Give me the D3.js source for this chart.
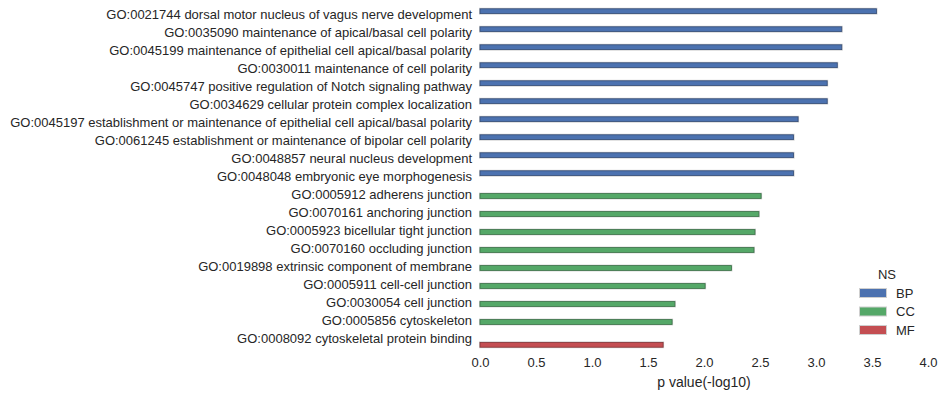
<!DOCTYPE html>
<html>
<head>
<meta charset="utf-8">
<script src="https://cdn.jsdelivr.net/npm/d3@7"></script>
<style>
  html, body { margin: 0; padding: 0; background: #fff; }
  svg { display: block; font-family: "Liberation Sans", Arial, sans-serif; }
</style>
</head>
<body>
<svg id="chart" width="942" height="397"></svg>
<script>
const terms = [
  "GO:0021744 dorsal motor nucleus of vagus nerve development",
  "GO:0035090 maintenance of apical/basal cell polarity",
  "GO:0045199 maintenance of epithelial cell apical/basal polarity",
  "GO:0030011 maintenance of cell polarity",
  "GO:0045747 positive regulation of Notch signaling pathway",
  "GO:0034629 cellular protein complex localization",
  "GO:0045197 establishment or maintenance of epithelial cell apical/basal polarity",
  "GO:0061245 establishment or maintenance of bipolar cell polarity",
  "GO:0048857 neural nucleus development",
  "GO:0048048 embryonic eye morphogenesis",
  "GO:0005912 adherens junction",
  "GO:0070161 anchoring junction",
  "GO:0005923 bicellular tight junction",
  "GO:0070160 occluding junction",
  "GO:0019898 extrinsic component of membrane",
  "GO:0005911 cell-cell junction",
  "GO:0030054 cell junction",
  "GO:0005856 cytoskeleton",
  "GO:0008092 cytoskeletal protein binding"
];
const namespaces = ["BP","BP","BP","BP","BP","BP","BP","BP","BP","BP",
                    "CC","CC","CC","CC","CC","CC","CC","CC","MF"];
const pvalues = [3.54, 3.23, 3.23, 3.19, 3.10, 3.10, 2.84, 2.80, 2.80, 2.80,
                 2.51, 2.49, 2.455, 2.446, 2.245, 2.01, 1.74, 1.715, 1.635];
const hueOrder = ["BP", "CC", "MF"];
const hueColors = ["#4C72B0", "#55A868", "#C44E52"];
const xTicks = [0, 0.5, 1, 1.5, 2, 2.5, 3, 3.5, 4];
const xLabel = "p value(-log10)";
const legendTitle = "NS";

const data = terms.map((t, i) => ({term: t, ns: namespaces[i], value: pvalues[i]}));

const svg = d3.select("#chart");
const textColor = "#262626";

const x = d3.scaleLinear().domain([0, 4]).range([480, 928]);
const y = d3.scaleBand().domain(terms).range([7, 349]).paddingInner(0.2).paddingOuter(0.1);
const hue = d3.scaleBand().domain(hueOrder).range([0, y.bandwidth()]);
const color = d3.scaleOrdinal().domain(hueOrder).range(hueColors);

// bars
const bars = svg.append("g");
data.forEach(d => {
  const y0 = y(d.term) + hue(d.ns);
  const h = hue.bandwidth();
  const w = x(d.value) - x(0);
  bars.append("rect")
    .attr("x", x(0) - 0.5).attr("y", y0 - 0.5)
    .attr("width", w + 1).attr("height", h + 1)
    .attr("fill", "none").attr("stroke", "#cfcfcf").attr("stroke-width", 1);
  bars.append("rect")
    .attr("x", x(0)).attr("y", y0)
    .attr("width", w).attr("height", h)
    .attr("fill", color(d.ns))
    .attr("stroke", d3.color(color(d.ns)).darker(1.2))
    .attr("stroke-width", 0.8);
});

// y axis
const yAxis = svg.append("g")
  .attr("transform", `translate(${x(0)},0)`)
  .call(d3.axisLeft(y).tickSize(0).tickPadding(8));
yAxis.select(".domain").remove();
yAxis.selectAll("text")
  .attr("fill", textColor)
  .attr("dy", "0.25em")
  .style("font-size", "13px")
  .style("font-family", "'Liberation Sans', Arial, sans-serif");

// x axis
const xAxis = svg.append("g")
  .attr("transform", `translate(0,349)`)
  .call(d3.axisBottom(x).tickValues(xTicks).tickFormat(d3.format(".1f")).tickSize(0).tickPadding(9));
xAxis.select(".domain").remove();
xAxis.selectAll("text")
  .attr("fill", textColor)
  .style("font-size", "13px")
  .style("font-family", "'Liberation Sans', Arial, sans-serif");

svg.append("text")
  .attr("x", (x(0) + x(4)) / 2).attr("y", 387)
  .attr("text-anchor", "middle")
  .attr("fill", textColor)
  .style("font-size", "14px")
  .text(xLabel);

// legend
const lg = svg.append("g");
lg.append("text")
  .attr("x", 887).attr("y", 279)
  .attr("text-anchor", "middle")
  .attr("fill", textColor)
  .style("font-size", "13px")
  .text(legendTitle);
hueOrder.forEach((k, i) => {
  const cy = 293 + i * 18.5;
  lg.append("rect")
    .attr("x", 859.5).attr("y", cy - 4.5)
    .attr("width", 27).attr("height", 9)
    .attr("fill", color(k))
    .attr("stroke", "#cfcfcf").attr("stroke-width", 1);
  lg.append("text")
    .attr("x", 896).attr("y", cy + 4.5)
    .attr("fill", textColor)
    .style("font-size", "13px")
    .text(k);
});
</script>
</body>
</html>
